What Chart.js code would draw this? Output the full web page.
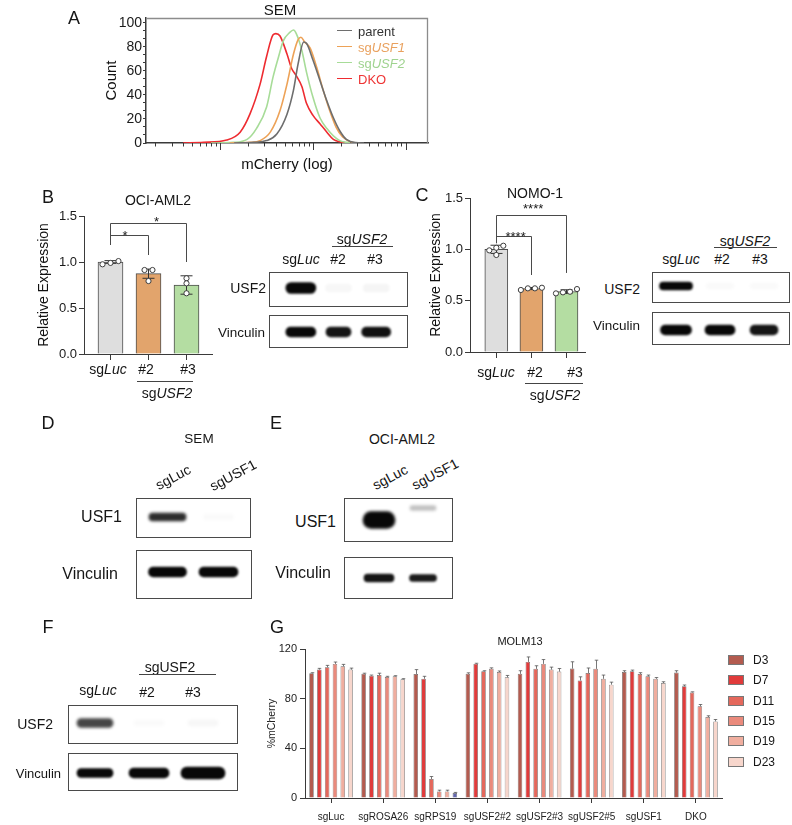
<!DOCTYPE html>
<html><head><meta charset="utf-8">
<script src="https://cdn.jsdelivr.net/npm/chart.js@4.4.1/dist/chart.umd.min.js"></script>
<style>
html,body{margin:0;padding:0;background:#fff;}
#fig{position:relative;width:792px;height:825px;overflow:hidden;font-family:"Liberation Sans",Arial,Helvetica,sans-serif;color:#161616;}
#fig canvas{position:absolute;}
.t{position:absolute;white-space:nowrap;line-height:1;}
.box{position:absolute;border:1px solid #4a4a4a;box-sizing:border-box;}
.hl{position:absolute;height:0;border-top:1px solid #444;}
</style></head><body><div id="fig"></div>
<script>
// ================= DATA =================
// Panel A: SEM flow histogram (x in log10 mCherry units, y = count)
const aSeries = ['parent', 'sgUSF1', 'sgUSF2', 'DKO'];
const aParentX = [3.15,3.36,3.50,3.61,3.72,3.79,3.84,3.90,3.93,4.00,4.075,4.15,4.22,4.29,4.36,4.46,4.55];
const aParentY = [0,0.5,2,7.5,24,44,66,84,83,69,52,35,21,10,3,0.3,0];
const aUSF1X = [3.1,3.32,3.43,3.54,3.645,3.72,3.79,3.84,3.87,3.91,3.97,4.04,4.11,4.18,4.25,4.32,4.43,4.50];
const aUSF1Y = [0,0.5,2,9,27,49,74,86,88,84,79,63,44,27,13,5,0.5,0];
const aUSF2X = [2.9,3.14,3.29,3.39,3.50,3.57,3.63,3.68,3.75,3.79,3.82,3.88,3.93,4.00,4.075,4.15,4.22,4.29,4.40];
const aUSF2Y = [0,0.5,3,12,30,55,72,85,92,94,91,77,59,38,21,12,6,2,0];
const aDKOX = [2.6,2.82,3.07,3.215,3.32,3.43,3.50,3.57,3.60,3.645,3.72,3.77,3.82,3.88,3.93,4.00,4.075,4.15,4.22,4.29,4.36];
const aDKOY = [0,0.5,2.5,9,24,49,72,90,91,89,74,62,56,47,33,23,16,9,3,1,0];
const aYTicks = [0, 20, 40, 60, 80, 100];

// Panel B: OCI-AML2 relative USF2 expression
const bCategories = ['sgLuc', '#2', '#3'];
const bMeans = [1.0, 0.873, 0.75];
const bSD = [0.015, 0.05, 0.1];
const bRepLuc = [0.975, 1.01, 0.99];
const bRep2 = [0.913, 0.913, 0.793];
const bRep3 = [0.823, 0.768, 0.66];
const bYTicks = [0, 0.5, 1.0, 1.5];

// Panel C: NOMO-1 relative USF2 expression
const cCategories = ['sgLuc', '#2', '#3'];
const cMeans = [1.0, 0.618, 0.588];
const cSD = [0.04, 0.01, 0.018];
const cRepLuc = [1.035, 0.99, 0.945, 1.015];
const cRep2 = [0.604, 0.626, 0.62, 0.62];
const cRep3 = [0.571, 0.581, 0.587, 0.613];
const cYTicks = [0, 0.5, 1.0, 1.5];

// Western blot band intensities (0..1) per lane
const blotB_USF2 = [1, 0.03, 0.04];
const blotB_Vinc = [1, 0.95, 0.97];
const blotC_USF2 = [1, 0.02, 0.02];
const blotC_Vinc = [1, 1, 0.95];
const blotD_USF1 = [0.85, 0.02];
const blotD_Vinc = [1, 1];
const blotE_USF1 = [1, 0.25];
const blotE_Vinc = [0.95, 0.92];
const blotF_USF2 = [0.75, 0.02, 0.03];
const blotF_Vinc = [1, 1, 1];

// Panel G: MOLM13 %mCherry competition
const gCategories = ['sgLuc','sgROSA26','sgRPS19','sgUSF2#2','sgUSF2#3','sgUSF2#5','sgUSF1','DKO'];
const gDays = ['D3','D7','D11','D15','D19','D23'];
const gD3  = [100.4, 100, 99.9, 100, 100, 104.2, 101.5, 101];
const gD7  = [103.4, 98.5, 96, 108, 109.6, 94.6, 102, 90];
const gD11 = [105.3, 99, 15.3, 102, 104, 100.7, 99.9, 85];
const gD15 = [108, 97.5, 5.3, 104, 108, 104, 98, 73.8];
const gD19 = [106.1, 98, 5.3, 101.5, 103.4, 96, 96, 65.2];
const gD23 = [103.4, 95.6, 4, 97.2, 101.8, 91.3, 92.6, 61.7];
const gD3sd  = [0.5, 0.5, 3.5, 0.8, 2.5, 5.5, 1, 1.5];
const gD7sd  = [1, 0.5, 2, 0.5, 4, 3, 1, 1];
const gD11sd = [1.5, 1.5, 2, 0.5, 2.5, 4, 1, 0.5];
const gD15sd = [1.5, 0.5, 1, 0.8, 3.5, 7, 1, 1.5];
const gD19sd = [1.5, 0.5, 1, 0.8, 2, 3, 1, 1];
const gD23sd = [1.2, 0.5, 0.5, 1.5, 2.5, 2, 1, 1.5];
const gYTicks = [0, 40, 80, 120];

// ================= HELPERS =================
Chart.defaults.font.family = '"Liberation Sans", Arial, Helvetica, sans-serif';
Chart.defaults.color = '#1a1a1a';
Chart.defaults.animation = false;
const AX = '#3a3a3a';
const fig = document.getElementById('fig');

function addCanvas(left, top, w, h) {
  const c = document.createElement('canvas');
  c.width = Math.round(w); c.height = Math.round(h);
  c.style.left = left + 'px'; c.style.top = top + 'px';
  c.style.width = Math.round(w) + 'px'; c.style.height = Math.round(h) + 'px';
  fig.appendChild(c); return c;
}
function addText(html, x, y, size, anchor, extra) {
  const d = document.createElement('div');
  d.className = 't';
  d.innerHTML = html;
  let tr = anchor === 'r' ? 'translate(-100%,-50%)' : anchor === 'l' ? 'translate(0,-50%)' : 'translate(-50%,-50%)';
  d.style.cssText += `left:${x}px;top:${y}px;font-size:${size}px;transform:${tr}${extra && extra.rot ? ' rotate(' + extra.rot + 'deg)' : ''};` + (extra && extra.color ? `color:${extra.color};` : '');
  fig.appendChild(d); return d;
}
function addBox(x1, y1, x2, y2) {
  const d = document.createElement('div'); d.className = 'box';
  d.style.cssText += `left:${x1}px;top:${y1}px;width:${x2 - x1}px;height:${y2 - y1}px;`;
  fig.appendChild(d);
}
function addLine(x1, x2, y) {
  const d = document.createElement('div'); d.className = 'hl';
  d.style.cssText += `left:${x1}px;top:${y}px;width:${x2 - x1}px;`;
  fig.appendChild(d);
}
// italicise the gene / guide target part of an sg label
function fmt(s) {
  const m = /^sg(.+)$/.exec(s);
  return m ? 'sg<i>' + m[1] + '</i>' : s;
}
function beeswarm(vals, tol, step) {
  const idx = vals.map((v, i) => i).sort((a, b) => vals[a] - vals[b]);
  const offs = new Array(vals.length).fill(0);
  let cl = [idx[0]];
  const flush = () => cl.forEach((k, m) => { offs[k] = (m - (cl.length - 1) / 2) * step; });
  for (let n = 1; n < idx.length; n++) {
    if (vals[idx[n]] - vals[idx[n - 1]] <= tol) cl.push(idx[n]); else { flush(); cl = [idx[n]]; }
  }
  flush();
  return offs;
}

// ================= PLUGINS =================
const errorBarPlugin = {
  id: 'errbars',
  afterDatasetDraw(chart, args) {
    const ds = chart.data.datasets[args.index];
    if (!ds.errors) return;
    const ctx = chart.ctx, ys = chart.scales.y;
    ctx.save();
    ctx.strokeStyle = ds.errorColor || '#333';
    ctx.lineWidth = ds.errorWidth || 1;
    args.meta.data.forEach((el, i) => {
      const d = ds.data[i];
      const v = (d && typeof d === 'object') ? d.y : d;
      const e = ds.errors[i];
      if (v == null || e == null) return;
      const x = Math.round(el.x) + 0.5;
      const yt = ys.getPixelForValue(v + e);
      const yb = ds.errorUpperOnly ? ys.getPixelForValue(v) : ys.getPixelForValue(v - e);
      const cw = ds.capWidth || 6;
      ctx.beginPath();
      ctx.moveTo(x, yb); ctx.lineTo(x, yt);
      ctx.moveTo(x - cw / 2, yt); ctx.lineTo(x + cw / 2, yt);
      if (!ds.errorUpperOnly) { ctx.moveTo(x - cw / 2, yb); ctx.lineTo(x + cw / 2, yb); }
      ctx.stroke();
    });
    ctx.restore();
  }
};
const bracketPlugin = {
  id: 'brackets',
  afterDraw(chart, args, opts) {
    const items = opts && opts.items;
    if (!items) return;
    const ctx = chart.ctx, xs = chart.scales.x, ys = chart.scales.y;
    ctx.save();
    ctx.strokeStyle = '#4a4a4a'; ctx.lineWidth = 1; ctx.fillStyle = '#1a1a1a';
    ctx.font = '13px "Liberation Sans", Arial, sans-serif';
    ctx.textAlign = 'center'; ctx.textBaseline = 'alphabetic';
    for (let i = 0; i < items.length; i++) {
      const b = items[i];
      const x1 = Math.round(xs.getPixelForValue(b.x1)) + 0.5, x2 = Math.round(xs.getPixelForValue(b.x2)) + 0.5;
      const y = Math.round(ys.getPixelForValue(b.y)) + 0.5;
      ctx.beginPath();
      ctx.moveTo(x1, ys.getPixelForValue(b.y1)); ctx.lineTo(x1, y); ctx.lineTo(x2, y); ctx.lineTo(x2, ys.getPixelForValue(b.y2));
      ctx.stroke();
      ctx.fillText(b.text, xs.getPixelForValue(b.tx), y + b.dy);
    }
    ctx.restore();
  }
};
const framePlugin = {
  id: 'frame',
  afterDraw(chart) {
    const {ctx, chartArea: {left, top, right, bottom}} = chart;
    ctx.save(); ctx.strokeStyle = '#8c8c8c'; ctx.lineWidth = 1.3;
    ctx.beginPath(); ctx.moveTo(left, top + 0.5); ctx.lineTo(right - 0.5, top + 0.5); ctx.lineTo(right - 0.5, bottom); ctx.stroke();
    ctx.restore();
  }
};
const logTickPlugin = {
  id: 'logTicks',
  afterDraw(chart) {
    const xs = chart.scales.x, ctx = chart.ctx, b = chart.chartArea.bottom;
    ctx.save(); ctx.strokeStyle = AX; ctx.lineWidth = 1;
    for (let d = Math.floor(xs.min); d <= Math.ceil(xs.max); d++) {
      for (let k = 1; k < 10; k++) {
        const v = d + Math.log10(k);
        if (v < xs.min || v > xs.max) continue;
        const px = Math.round(xs.getPixelForValue(v)) + 0.5;
        ctx.beginPath(); ctx.moveTo(px, b); ctx.lineTo(px, b + (k === 1 ? 7 : 3.5)); ctx.stroke();
      }
    }
    ctx.restore();
  }
};
const blurPlugin = {
  id: 'blotBlur',
  beforeDatasetsDraw(chart, args, opts) { chart.ctx.save(); chart.ctx.filter = `blur(${(opts && opts.px) || 1}px)`; },
  afterDatasetsDraw(chart) { chart.ctx.restore(); }
};

// ================= PANEL A =================
const aColors = ['#6E6E6E', '#EDA257', '#A7DC98', '#EE2B30'];
const aTextColors = ['#333333', '#E9A15E', '#9FD38F', '#EE3535'];
const aXs = [aParentX, aUSF1X, aUSF2X, aDKOX], aYs = [aParentY, aUSF1Y, aUSF2Y, aDKOY];
new Chart(addCanvas(60, 0, 380, 180), {
  type: 'line',
  data: { datasets: aSeries.map((name, i) => ({
    label: name, data: aXs[i].map((x, j) => ({x, y: aYs[i][j]})),
    borderColor: aColors[i], borderWidth: 1.6, pointRadius: 0, cubicInterpolationMode: 'monotone', fill: false
  })) },
  options: {
    responsive: false, animation: false, events: [],
    layout: { padding: { top: 18, right: 12, left: 0, bottom: 0 } },
    plugins: { legend: { display: false }, tooltip: { enabled: false } },
    scales: {
      x: { type: 'linear', min: 2.2, max: 5.24,
        afterFit: s => { s.height = 37; },
        ticks: { display: false }, grid: { display: false },
        border: { display: true, color: AX, width: 1.5 },
        title: { display: true, text: 'mCherry (log)', font: { size: 15 }, padding: { top: 0, bottom: 6 }, color: '#111' } },
      y: { min: 0, max: 104,
        afterBuildTicks: s => {
          const t = [];
          for (let i = 0; i < aYTicks.length; i++) {
            t.push({ value: aYTicks[i] });
            if (i < aYTicks.length - 1) {
              const st = (aYTicks[i + 1] - aYTicks[i]) / 3;
              t.push({ value: aYTicks[i] + st }, { value: aYTicks[i] + 2 * st });
            }
          }
          s.ticks = t;
        },
        ticks: { callback: v => aYTicks.includes(v) ? String(v) : '', font: { size: 14 }, padding: 1, autoSkip: false, color: '#1a1a1a' },
        grid: { drawOnChartArea: false, tickLength: 3, color: AX },
        border: { color: AX, width: 1.5 },
        afterFit: s => { s.width = 86; },
        title: { display: true, text: 'Count', font: { size: 15 }, padding: { top: 43, bottom: 0 }, color: '#111' } }
    }
  },
  plugins: [framePlugin, logTickPlugin]
});
addText('A', 74, 18, 18);
addText('SEM', 280, 9, 15);
aSeries.forEach((name, i) => {
  const y = 30.5 + 16.2 * i;
  const ln = document.createElement('div');
  ln.style.cssText = `position:absolute;left:337px;top:${y - 0.75}px;width:15px;height:0;border-top:1.5px solid ${aColors[i]};`;
  fig.appendChild(ln);
  addText(fmt(name), 358, y, 13, 'l', { color: aTextColors[i] });
});

// ================= PANELS B & C (bar charts) =================
function makeBarPanel(cfg) {
  const pts = [];
  cfg.reps.forEach((arr, i) => {
    const off = beeswarm(arr, cfg.swarmTol, cfg.swarmStep);
    arr.forEach((v, j) => pts.push({ x: i + off[j], y: v }));
  });
  new Chart(addCanvas(cfg.left, cfg.top, cfg.w, cfg.h), {
    type: 'bar',
    data: { datasets: [
      { type: 'bar', label: 'mean', data: cfg.means.map((y, i) => ({ x: i, y })), backgroundColor: cfg.colors,
        borderColor: '#4d4d4d', borderWidth: 1, barThickness: cfg.barW, errors: cfg.sds, capWidth: cfg.capW, errorColor: '#333', order: 2 },
      { type: 'scatter', label: 'replicates', data: pts, pointRadius: 2.6, pointBackgroundColor: '#fff',
        pointBorderColor: '#3d3d3d', pointBorderWidth: 1, order: 1 }
    ] },
    options: {
      responsive: false, animation: false, events: [],
      layout: { padding: { top: cfg.padTop, right: cfg.padRight, left: 0, bottom: 0 } },
      plugins: { legend: { display: false }, tooltip: { enabled: false }, brackets: { items: cfg.brackets } },
      scales: {
        x: { type: 'linear', min: cfg.xmin, max: cfg.xmax, offset: false,
          afterBuildTicks: s => { s.ticks = cfg.cats.map((_, i) => ({ value: i })); },
          ticks: { callback: () => '', autoSkip: false },
          grid: { offset: false, drawOnChartArea: false, tickLength: 6, color: AX },
          border: { color: AX, width: 1 },
          afterFit: s => { s.height = cfg.xH; } },
        y: { min: 0, max: 1.5,
          afterBuildTicks: s => { s.ticks = cfg.yTicks.map(v => ({ value: v })); },
          ticks: { callback: v => v.toFixed(1), font: { size: 13 }, padding: 2, color: '#1a1a1a' },
          grid: { drawOnChartArea: false, tickLength: 5, color: AX },
          border: { color: AX, width: 1 },
          afterFit: s => { s.width = cfg.yW; },
          title: { display: true, text: 'Relative Expression', font: { size: 14 }, padding: { top: cfg.titlePad, bottom: 0 }, color: '#111' } }
      }
    },
    plugins: [errorBarPlugin, bracketPlugin]
  });
}
const barColors = ['#DEDEDE', '#E2A46C', '#B4DDA2'];
makeBarPanel({
  left: 30, top: 190, w: 190, h: 190, padTop: 26, padRight: 8, yW: 54, xH: 26, titlePad: 5.6,
  xmin: -0.697, xmax: 2.671, barW: 25, capW: 12, cats: bCategories, means: bMeans, sds: bSD,
  reps: [bRepLuc, bRep2, bRep3], colors: barColors, yTicks: bYTicks, swarmTol: 0.04, swarmStep: 0.21,
  brackets: [
    { x1: 0, x2: 1, y: 1.293, y1: 1.185, y2: 1.076, text: '*', tx: 0.38, dy: 4.5 },
    { x1: 0, x2: 2, y: 1.424, y1: 1.185, y2: 1.0, text: '*', tx: 1.21, dy: 2.5 }
  ]
});
makeBarPanel({
  left: 390, top: 185, w: 200, h: 195, padTop: 13, padRight: 2, yW: 80, xH: 28, titlePad: 37.6,
  xmin: -0.75, xmax: 2.528, barW: 23, capW: 12, cats: cCategories, means: cMeans, sds: cSD,
  reps: [cRepLuc, cRep2, cRep3], colors: barColors, yTicks: cYTicks, swarmTol: 0.04, swarmStep: 0.2,
  brackets: [
    { x1: 0, x2: 1, y: 1.13, y1: 1.06, y2: 0.75, text: '****', tx: 0.55, dy: 4.5 },
    { x1: 0, x2: 2, y: 1.334, y1: 1.06, y2: 0.77, text: '****', tx: 1.05, dy: -2.5 }
  ]
});
// B labels
addText('B', 48, 197, 18);
addText('OCI-AML2', 158, 200, 14);
[108, 146, 188].forEach((x, i) => addText(fmt(bCategories[i]), x, 369, 14));
addLine(137, 193, 381);
addText(fmt('sgUSF2'), 167, 393, 14);
// C labels
addText('C', 422, 195, 18);
addText('NOMO-1', 535, 193, 14);
[496, 535, 575].forEach((x, i) => addText(fmt(cCategories[i]), x, 372, 14));
addLine(525, 583, 383);
addText(fmt('sgUSF2'), 555, 395, 14);

// ================= WESTERN BLOTS =================
function makeBlot(firstLane, spacing, centerY, intens, st) {
  const n = intens.length, H = 36;
  const cv = addCanvas(firstLane - spacing / 2, centerY - H / 2, n * spacing, H);
  new Chart(cv, {
    type: 'bar',
    data: {
      labels: intens.map((_, i) => 'lane ' + (i + 1)),
      datasets: intens.map((v, i) => {
        const dy = st.dy ? st.dy[i] : 0;
        return {
          label: 'lane ' + (i + 1),
          data: intens.map((_, j) => j === i ? [dy - st.hs[i] / 2, dy + st.hs[i] / 2] : null),
          backgroundColor: `rgba(8,8,8,${v})`,
          barThickness: st.ws[i], borderRadius: st.hs[i] / 2, borderSkipped: false, grouped: false
        };
      })
    },
    options: {
      responsive: false, animation: false, events: [], layout: { padding: 0 },
      scales: { x: { display: false, offset: true }, y: { display: false, min: -H / 2, max: H / 2 } },
      plugins: { legend: { display: false }, tooltip: { enabled: false }, blotBlur: { px: st.blur || 1.2 } }
    },
    plugins: [blurPlugin]
  });
}
// B blot
addBox(269, 272, 408, 307); addBox(269, 315, 408, 348);
makeBlot(301, 37.5, 288, blotB_USF2, { ws: [30, 26, 26], hs: [11, 8, 8], blur: 1.3 });
makeBlot(301, 37.5, 332, blotB_Vinc, { ws: [30, 25, 29], hs: [10, 10, 10], blur: 1.2 });
addText(fmt('sgLuc'), 301, 259, 14); addText('#2', 338, 259, 14); addText('#3', 375, 259, 14);
addText(fmt('sgUSF2'), 362, 239, 14); addLine(332, 393, 246);
addText('USF2', 266, 288, 14, 'r'); addText('Vinculin', 265, 333, 13.5, 'r');
// C blot
addBox(652, 272, 790, 303); addBox(652, 312, 790, 345);
makeBlot(676, 44, 286, blotC_USF2, { ws: [33, 28, 28], hs: [8, 6, 6], blur: 1.2 });
makeBlot(676, 44, 330, blotC_Vinc, { ws: [31, 30, 28], hs: [10, 10, 10], blur: 1.2 });
addText(fmt('sgLuc'), 681, 259, 14); addText('#2', 722, 259, 14); addText('#3', 760, 259, 14);
addText(fmt('sgUSF2'), 745, 241, 14); addLine(714, 777, 247);
addText('USF2', 640, 289, 14, 'r'); addText('Vinculin', 640, 326, 13.5, 'r');
// D blot
addText('D', 48, 423, 18); addText('SEM', 199, 439, 13.5);
addText('sgLuc', 173, 477, 14, 'c', { rot: -28 }); addText('sgUSF1', 233, 475, 14, 'c', { rot: -28 });
addBox(136, 498, 251, 538); addBox(136, 550, 252, 599);
makeBlot(167, 51, 517, blotD_USF1, { ws: [37, 30], hs: [8, 6], blur: 1.4 });
makeBlot(167, 51, 572, blotD_Vinc, { ws: [38, 39], hs: [10, 10], blur: 1.2 });
addText('USF1', 122, 517, 16, 'r'); addText('Vinculin', 118, 574, 16, 'r');
// E blot
addText('E', 276, 423, 18); addText('OCI-AML2', 402, 439, 14);
addText('sgLuc', 390, 477, 14, 'c', { rot: -28 }); addText('sgUSF1', 435, 474, 14, 'c', { rot: -28 });
addBox(344, 498, 453, 542); addBox(344, 557, 453, 599);
makeBlot(379, 44, 520, blotE_USF1, { ws: [32, 26], hs: [17, 5], dy: [0, 12], blur: 1.5 });
makeBlot(379, 44, 578, blotE_Vinc, { ws: [30, 27], hs: [8, 7], blur: 1.1 });
addText('USF1', 336, 522, 16, 'r'); addText('Vinculin', 331, 573, 16, 'r');
// F blot
addText('F', 48, 627, 18);
addText('sgUSF2', 170, 667, 14); addLine(139, 216, 674);
addText(fmt('sgLuc'), 98, 690, 14); addText('#2', 147, 692, 14); addText('#3', 193, 692, 14);
addBox(68, 705, 238, 744); addBox(68, 753, 238, 791);
makeBlot(95, 54, 723, blotF_USF2, { ws: [36, 30, 30], hs: [9, 6, 6], blur: 1.5 });
makeBlot(95, 54, 773, blotF_Vinc, { ws: [36, 40, 44], hs: [9, 10, 12], blur: 1.3 });
addText('USF2', 53, 724, 14, 'r'); addText('Vinculin', 61, 773, 13, 'r');

// ================= PANEL G =================
const gSeries = [gD3, gD7, gD11, gD15, gD19, gD23];
const gErrs = [gD3sd, gD7sd, gD11sd, gD15sd, gD19sd, gD23sd];
const gColors = ['#B35B4F', '#E03B3B', '#E4685C', '#EA8A7C', '#F0AE9F', '#F7D6CC'];
new Chart(addCanvas(255, 630, 470, 195), {
  type: 'bar',
  data: { labels: gCategories, datasets: gDays.map((d, k) => ({
    label: d, data: gSeries[k], errors: gErrs[k], errorUpperOnly: true, capWidth: 3.5, errorColor: '#555', errorWidth: 0.8,
    backgroundColor: (k === 5) ? (c => gCategories[c.dataIndex] === 'sgRPS19' ? '#6468AE' : gColors[k]) : gColors[k],
    borderColor: '#6b6b6b', borderWidth: 0.7
  })) },
  options: {
    responsive: false, animation: false, events: [],
    layout: { padding: { top: 19, right: 3, left: 0, bottom: 0 } },
    datasets: { bar: { categoryPercentage: 0.9, barPercentage: 0.58 } },
    plugins: { legend: { display: false }, tooltip: { enabled: false } },
    scales: {
      x: { grid: { offset: false, drawOnChartArea: false, tickLength: 5, color: AX }, border: { color: AX, width: 1 },
        ticks: { font: { size: 10 }, padding: 8, maxRotation: 0, autoSkip: false, color: '#222' },
        afterFit: s => { s.height = 27; } },
      y: { min: 0, max: 120,
        afterBuildTicks: s => { s.ticks = gYTicks.map(v => ({ value: v })); },
        ticks: { font: { size: 11 }, padding: 3, color: '#222' },
        grid: { drawOnChartArea: false, tickLength: 5, color: AX }, border: { color: AX, width: 1 },
        afterFit: s => { s.width = 50; },
        title: { display: true, text: '%mCherry', font: { size: 10.5 }, padding: { top: 10.7, bottom: 0 }, color: '#222' } }
    }
  },
  plugins: [errorBarPlugin]
});
addText('G', 277, 627, 18);
addText('MOLM13', 520, 641, 11);
gDays.forEach((d, k) => {
  const y = 660 + 20.3 * k;
  const b = document.createElement('div');
  b.style.cssText = `position:absolute;left:728px;top:${y - 5}px;width:16px;height:10px;box-sizing:border-box;border:1px solid #777;background:${gColors[k]};`;
  fig.appendChild(b);
  addText(d, 753, y, 12, 'l');
});
</script></body></html>
